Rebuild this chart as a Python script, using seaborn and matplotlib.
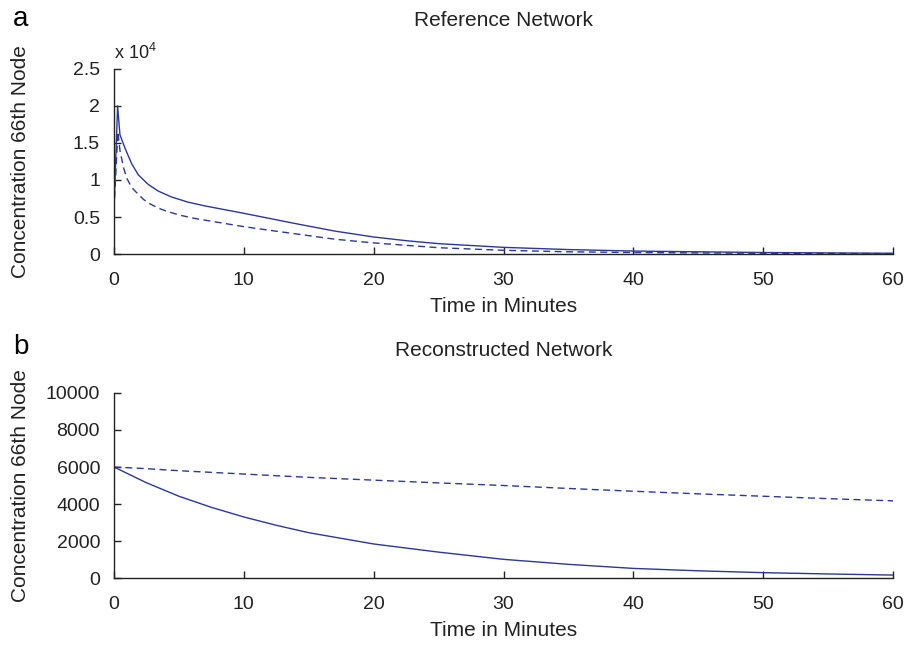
"""
Concentration of the 66th node: reference vs reconstructed network
"""

import pandas as pd
import seaborn as sns
import matplotlib.pyplot as plt
from matplotlib.ticker import FuncFormatter

# --- data ---------------------------------------------------------------
# (a) reference network
ref_t_solid = [0, 0.28, 0.46, 0.85, 1.36, 1.87, 2.64, 3.41, 4.44, 5.72, 7.0,
               8.5, 10, 12, 14.3, 17, 20, 22.5, 25, 30, 35, 40, 45, 50, 55, 60]
ref_c_solid = [6000, 20000, 16100, 14300, 12200, 10700, 9400, 8500, 7700,
               7000, 6500, 6000, 5500, 4800, 4000, 3100, 2300, 1800, 1400,
               900, 600, 400, 300, 200, 150, 100]
ref_t_dash = [0, 0.3, 0.46, 0.72, 0.97, 1.36, 1.74, 2.26, 2.64, 3.41, 4.18,
              5.2, 6.23, 7.26, 8.28, 10, 12, 14.3, 17, 20, 25, 30, 35, 40,
              50, 60]
ref_c_dash = [6000, 16500, 14000, 11800, 10300, 9000, 8300, 7400, 6900, 6200,
              5700, 5200, 4800, 4500, 4200, 3700, 3200, 2650, 2000, 1500,
              850, 500, 300, 200, 100, 50]

# (b) reconstructed network
rec_t = [0, 2.5, 5, 7.5, 10, 12.5, 15, 20, 25, 30, 35, 40, 45, 50, 55, 60]
rec_c_solid = [6000, 5150, 4420, 3820, 3300, 2850, 2450, 1840, 1400, 1010,
               740, 520, 390, 290, 220, 160]
rec_c_dash = [6000, 5910, 5800, 5710, 5620, 5530, 5440, 5290, 5140, 5000,
              4840, 4690, 4550, 4420, 4290, 4170]

x_ticks = [0, 10, 20, 30, 40, 50, 60]
top_yticks = [0, 5000, 10000, 15000, 20000, 25000]
bot_yticks = [0, 2000, 4000, 6000, 8000, 10000]

# --- style ----------------------------------------------------------------
sns.set_style('ticks')
plt.rcParams['font.family'] = ['Liberation Sans', 'DejaVu Sans']
plt.rcParams['mathtext.fontset'] = 'custom'
plt.rcParams['mathtext.rm'] = 'Liberation Sans'
plt.rcParams['mathtext.default'] = 'regular'
plt.rcParams['xtick.direction'] = 'in'
plt.rcParams['ytick.direction'] = 'in'

line_color = '#2b3896'
text_color = '#222222'

fig = plt.figure(figsize=(9.06, 6.47), dpi=100)
ax_a = fig.add_axes([0.1258, 0.6074, 0.8599, 0.2860])
ax_b = fig.add_axes([0.1258, 0.1066, 0.8599, 0.2860])

df_a_solid = pd.DataFrame({'t': ref_t_solid, 'c': ref_c_solid})
df_a_dash = pd.DataFrame({'t': ref_t_dash, 'c': ref_c_dash})
df_b = pd.DataFrame({'t': rec_t, 'solid': rec_c_solid, 'dash': rec_c_dash})

sns.lineplot(data=df_a_solid, x='t', y='c', ax=ax_a, color=line_color, lw=1.0)
sns.lineplot(data=df_a_dash, x='t', y='c', ax=ax_a, color=line_color, lw=1.0)
ax_a.lines[-1].set_dashes((5, 3.2))
sns.lineplot(data=df_b, x='t', y='solid', ax=ax_b, color=line_color, lw=1.0)
sns.lineplot(data=df_b, x='t', y='dash', ax=ax_b, color=line_color, lw=1.0)
ax_b.lines[-1].set_dashes((5, 3.2))

for ax, yticks in [(ax_a, top_yticks), (ax_b, bot_yticks)]:
    ax.set_xlim(0, 60)
    ax.set_ylim(yticks[0], yticks[-1])
    ax.set_xticks(x_ticks)
    ax.set_yticks(yticks)
    ax.tick_params(labelsize=14, length=5, width=1, colors=text_color)
    ax.tick_params(axis='x', pad=13)
    ax.tick_params(axis='y', pad=10)
    for s in ['top', 'right']:
        ax.spines[s].set_visible(False)
    for s in ['left', 'bottom']:
        ax.spines[s].set_color(text_color)
        ax.spines[s].set_linewidth(1.0)
    ax.set_xlabel('Time in Minutes', fontsize=15, color=text_color, labelpad=6)
    ax.set_ylabel('Concentration 66th Node', fontsize=15, color=text_color)
    ax.yaxis.set_label_coords(-0.108, 0.5)

ax_a.yaxis.set_major_formatter(FuncFormatter(lambda v, p: '%g' % (v / 1e4)))
ax_a.text(0.0, 1.03, r'x 10$^{4}$', transform=ax_a.transAxes, fontsize=13,
          color=text_color, ha='left', va='bottom')

fig.text(504 / 906, 1 - 20 / 647, 'Reference Network', fontsize=15,
         color=text_color, ha='center', va='center')
fig.text(504 / 906, 1 - 350 / 647, 'Reconstructed Network', fontsize=15,
         color=text_color, ha='center', va='center')
fig.text(21 / 906, 1 - 19 / 647, 'a', fontsize=20, color='black',
         ha='center', va='center')
fig.text(21 / 906, 1 - 347 / 647, 'b', fontsize=20, color='black',
         ha='center', va='center')

plt.savefig('out.png', dpi=100)
